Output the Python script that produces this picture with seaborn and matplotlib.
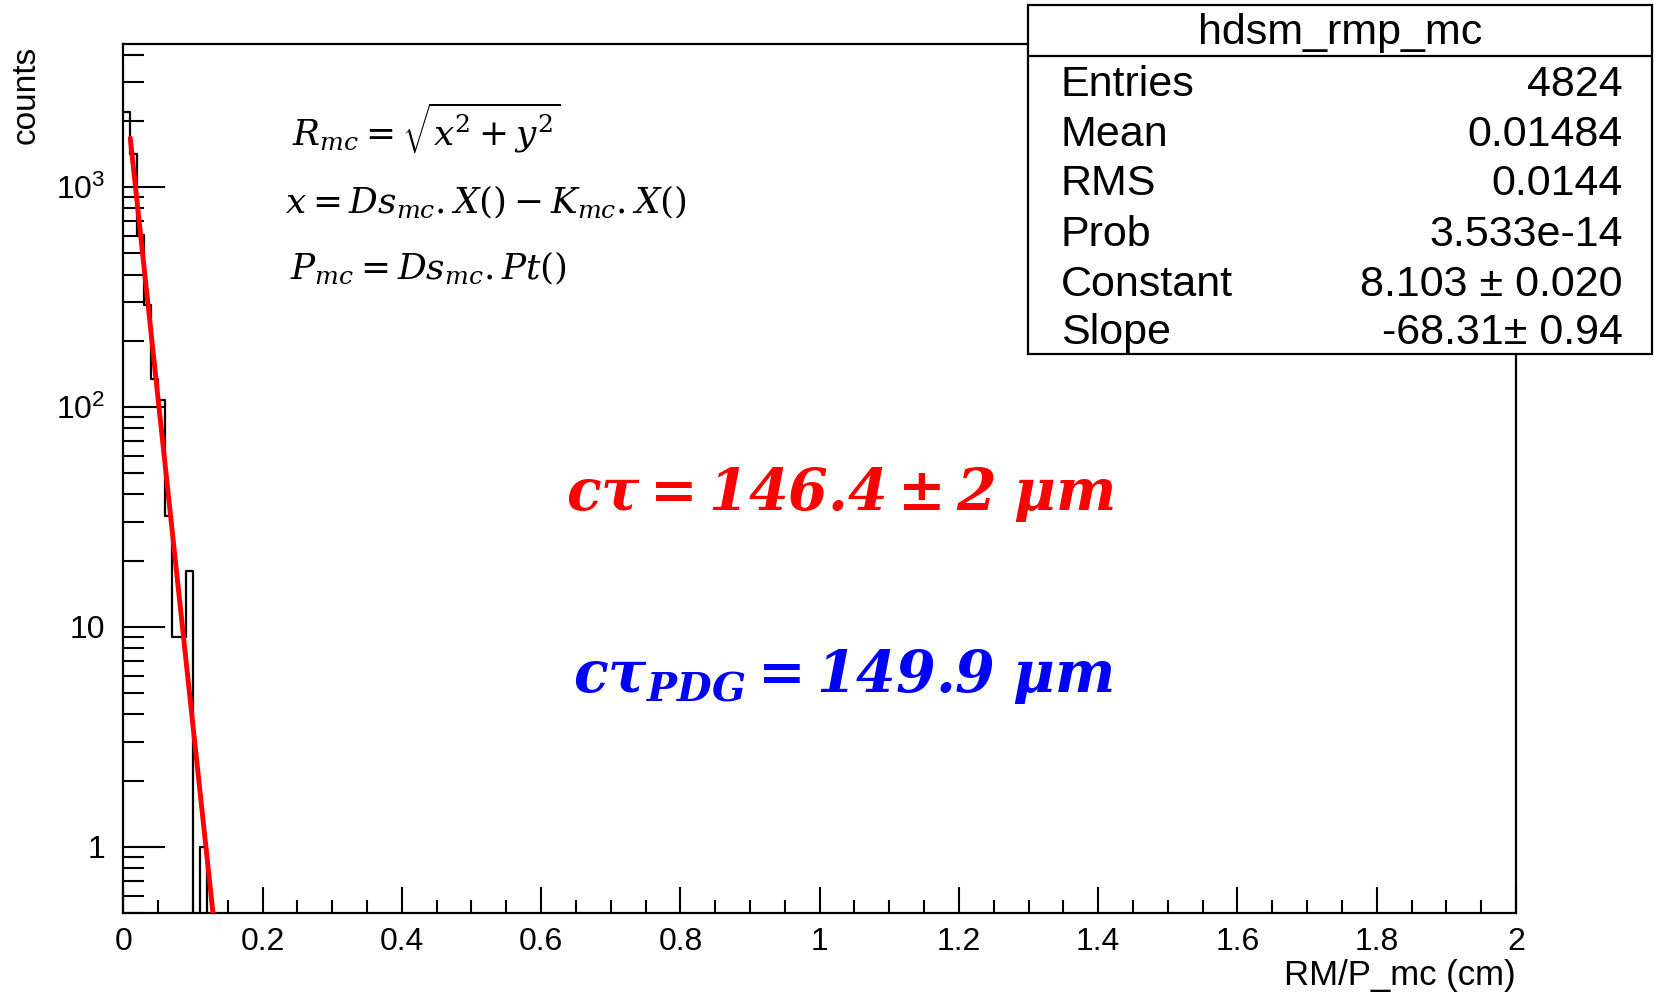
import numpy as np
import pandas as pd
import matplotlib
matplotlib.use("Agg")
import matplotlib.pyplot as plt
import seaborn as sns
from matplotlib.patches import Rectangle
from matplotlib.lines import Line2D
from matplotlib.ticker import FixedLocator, LogLocator, NullFormatter, MultipleLocator

# ---------------- data ----------------
bin_low_edges = [0.00, 0.01, 0.02, 0.03, 0.04, 0.05, 0.06, 0.07, 0.08, 0.09, 0.10, 0.11]
bin_counts = [2203, 1412, 608, 290, 134, 108, 32, 9, 9, 18, 0, 1]
bin_width = 0.01
n_bins = 200
x_min, x_max = 0.0, 2.0
y_min, y_max = 0.5, 4470

fit_constant = 8.103
fit_slope = -68.31
fit_range = (0.01, 0.2)

x_tick_values = [0, 0.2, 0.4, 0.6, 0.8, 1.0, 1.2, 1.4, 1.6, 1.8, 2.0]
x_tick_labels = ["0", "0.2", "0.4", "0.6", "0.8", "1", "1.2", "1.4", "1.6", "1.8", "2"]
y_tick_values = [1, 10, 100, 1000]
y_tick_labels = ["1", "10", r"$\mathregular{10^{2}}$", r"$\mathregular{10^{3}}$"]

stats_title = "hdsm_rmp_mc"
stats_names = ["Entries", "Mean", "RMS", "Prob", "Constant", "Slope"]
stats_values = ["4824", "0.01484", "0.0144", "3.533e-14", "8.103 \u00b1 0.020", "-68.31\u00b1 0.94"]

x_label = "RM/P_mc (cm)"
y_label = "counts"

formula_lines = [r"$R_{mc} = \sqrt{x^2 + y^2}$",
                 r"$x = Ds_{mc}.X() - K_{mc}.X()$",
                 r"$P_{mc} = Ds_{mc}.Pt()$"]
ctau_fit_text = r"$\mathbf{c\tau = 146.4 \pm 2\ \mu m}$"
ctau_pdg_text = r"$\mathbf{c\tau_{PDG} = 149.9\ \mu m}$"

# ---------------- style ----------------
sns.set_style("ticks")
plt.rcParams["font.family"] = ["Liberation Sans", "DejaVu Sans"]
plt.rcParams["text.color"] = "black"
plt.rcParams["xtick.color"] = "black"
plt.rcParams["ytick.color"] = "black"
plt.rcParams["axes.edgecolor"] = "black"
plt.rcParams["mathtext.fontset"] = "custom"
plt.rcParams["mathtext.rm"] = "DejaVu Serif"
plt.rcParams["mathtext.it"] = "DejaVu Serif:italic"
plt.rcParams["mathtext.bf"] = "DejaVu Serif:bold:italic"

W, H = 1654, 993
fig = plt.figure(figsize=(W / 100, H / 100), dpi=100)
fig.patch.set_facecolor("white")

def fx(px):
    return px / W

def fy(py):
    return 1 - py / H

ax_l, ax_r, ax_t, ax_b = 123.3, 1516, 44, 913
ax = fig.add_axes([fx(ax_l), fy(ax_b), fx(ax_r) - fx(ax_l), fy(ax_t) - fy(ax_b)])
ax.set_facecolor("white")

# ---------------- histogram ----------------
centers = np.array(bin_low_edges) + bin_width / 2
df = pd.DataFrame({"x": centers, "w": bin_counts})
sns.histplot(data=df, x="x", weights="w", bins=n_bins, binrange=(x_min, x_max),
             element="step", fill=False, color="black", linewidth=1.6, ax=ax)

# ---------------- fit ----------------
xf = np.linspace(fit_range[0], fit_range[1], 300)
fit_df = pd.DataFrame({"x": xf, "y": np.exp(fit_constant + fit_slope * xf)})
sns.lineplot(data=fit_df, x="x", y="y", color="red", linewidth=3.5, ax=ax,
             estimator=None, sort=False, zorder=5)

ax.set_yscale("log")
ax.set_xlim(x_min, x_max)
ax.set_ylim(y_min, y_max)
ax.set_xlabel("")
ax.set_ylabel("")

ax.xaxis.set_major_locator(FixedLocator(x_tick_values))
ax.set_xticklabels(x_tick_labels)
ax.xaxis.set_minor_locator(MultipleLocator(0.05))
ax.yaxis.set_major_locator(FixedLocator(y_tick_values))
ax.set_yticklabels(y_tick_labels)
ax.yaxis.set_minor_locator(LogLocator(base=10, subs=np.arange(2, 10), numticks=30))
ax.yaxis.set_minor_formatter(NullFormatter())

ax.tick_params(axis="both", which="both", direction="in", top=False, right=False,
               width=1.5, colors="black")
ax.tick_params(axis="x", which="major", length=18.7, pad=10, labelsize=23)
ax.tick_params(axis="x", which="minor", length=9.4)
ax.tick_params(axis="y", which="major", length=30, pad=13, labelsize=23)
ax.tick_params(axis="y", which="minor", length=15)
for s in ax.spines.values():
    s.set_linewidth(1.6)
    s.set_color("black")

# axis titles
fig.text(fx(1516), fy(975), x_label, ha="right", va="center", fontsize=25, color="black")
fig.text(fx(26), fy(46), y_label, ha="center", va="top", rotation=90, fontsize=24, color="black")

# formulas
for txt, (lx, by) in zip(formula_lines, [(292, 146), (285, 212), (290, 278)]):
    fig.text(fx(lx), fy(by), txt, ha="left", va="baseline", fontsize=25.8, color="black")

# c tau texts
fig.text(fx(566), fy(510), ctau_fit_text, ha="left", va="baseline", fontsize=41, color="#ff0000")
fig.text(fx(573), fy(692), ctau_pdg_text, ha="left", va="baseline", fontsize=41, color="#0000ff")

# ---------------- stats box ----------------
bx0, bx1, by0, by1 = 1028, 1652, 5, 354
rect = Rectangle((fx(bx0), fy(by1)), fx(bx1) - fx(bx0), fy(by0) - fy(by1),
                 transform=fig.transFigure, facecolor="white", edgecolor="black",
                 linewidth=1.6, zorder=10)
fig.add_artist(rect)
sep = Line2D([fx(bx0), fx(bx1)], [fy(56), fy(56)], transform=fig.transFigure,
             color="black", linewidth=1.6, zorder=11)
fig.add_artist(sep)
fig.text(fx((bx0 + bx1) / 2), fy(44), stats_title, ha="center", va="baseline",
         fontsize=31, zorder=12, color="black")
row_baselines = [96, 146.5, 195, 245.5, 295.5, 344]
for name, val, yb in zip(stats_names, stats_values, row_baselines):
    fig.text(fx(1061), fy(yb), name, ha="left", va="baseline", fontsize=31, zorder=12, color="black")
    fig.text(fx(1623), fy(yb), val, ha="right", va="baseline", fontsize=31, zorder=12, color="black")

fig.savefig("out.png", dpi=100)
